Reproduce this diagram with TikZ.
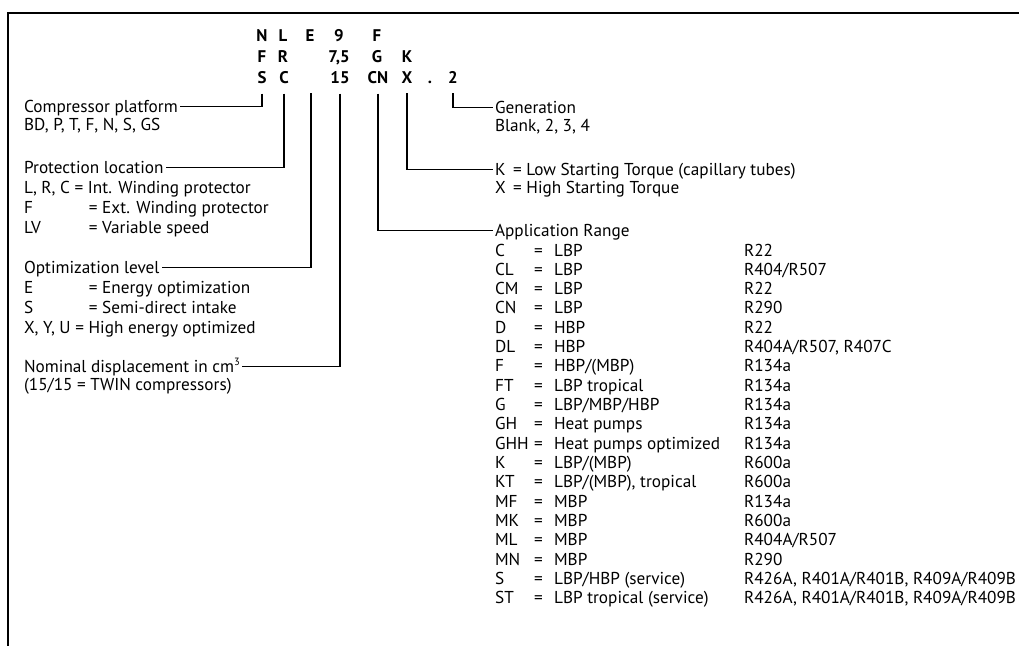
\documentclass[tikz,border=0pt]{standalone}
\usepackage{fontspec}
\setmainfont{PT Sans}

\tikzset{
  codeletter/.style={font=\fontsize{9.6}{11}\selectfont\bfseries, anchor=base, inner xsep=0pt, inner ysep=5.7pt},
  desc/.style={font=\fontsize{9.8}{11}\selectfont, anchor=base west, inner xsep=1pt, inner ysep=0pt, text height=1.2ex, text depth=0pt},
  rim/.style={line width=0.8pt},
  link/.style={line width=0.6pt},
}

\begin{document}
\begin{tikzpicture}[x=0.02cm, y=-0.02cm]
\useasboundingbox (0,0) rectangle (1019,646);
\draw[rim] (8,646) -- (8,13) -- (1019,13);

% type code
\node[codeletter] (n1) at (262,41) {N};
\node[codeletter] (l1) at (283,41) {L};
\node[codeletter] (e1) at (310,41) {E};
\node[codeletter] (d1) at (339,41) {9};
\node[codeletter] (a1) at (377,41) {F};
\node[codeletter] (f2) at (262,62) {F};
\node[codeletter] (r2) at (283,62) {R};
\node[codeletter] (d2) at (339,62) {7,5};
\node[codeletter] (a2) at (377,62) {G};
\node[codeletter] (k2) at (407,62) {K};
\node[codeletter] (s3) at (262,83) {S};
\node[codeletter] (c3) at (284,83) {C};
\node[codeletter] (d3) at (340,83) {15};
\node[codeletter] (a3) at (378,83) {CN};
\node[codeletter] (x3) at (407,83) {X};
\node[codeletter] (dot3) at (430,83) {.};
\node[codeletter] (g3) at (453,83) {2};
\coordinate (e3) at (311,93);

% left side
\node[desc] (platform) at (22,112) {Compressor platform};
\node[desc] (platformlist) at (22,130) {BD, P, T, F, N, S, GS};
\node[desc] (protection) at (22,173) {Protection location};
\node[desc] (protint) at (22,193) {L, R, C = Int. Winding protector};
\node[desc] (protext) at (22,213) {\makebox[36.9pt][l]{F}= Ext. Winding protector};
\node[desc] (protvar) at (22,233) {\makebox[36.9pt][l]{LV}= Variable speed};
\node[desc] (optimization) at (22,273) {Optimization level};
\node[desc] (optE) at (22,293) {\makebox[36.9pt][l]{E}= Energy optimization};
\node[desc] (optS) at (22,313) {\makebox[36.9pt][l]{S}= Semi-direct intake};
\node[desc] (optXYU) at (22,333) {X, Y, U = High energy optimized};
\node[desc] (displacement) at (22,372) {Nominal displacement in cm\raisebox{0.7ex}{\fontsize{6}{6}\selectfont 3}};
\node[desc] (twin) at (22,390) {(15/15 = TWIN compressors)};

% right side
\node[desc] (generation) at (493,113) {Generation};
\node[desc] (genlist) at (493,131) {Blank, 2, 3, 4};
\node[desc] (torque) at (493,175) {K \,= Low Starting Torque (capillary tubes)};
\node[desc] (torquehigh) at (493,193) {X \,= High Starting Torque};
\node[desc] (range) at (493,236) {Application Range};
\foreach \k/\what/\gas [count=\i from 0] in {
    C/LBP/R22, CL/LBP/{R404/R507}, CM/LBP/R22, CN/LBP/R290,
    D/HBP/R22, DL/HBP/{R404A/R507, R407C}, F/{HBP/(MBP)}/R134a,
    FT/LBP tropical/R134a, G/{LBP/MBP/HBP}/R134a, GH/Heat pumps/R134a,
    GHH/Heat pumps optimized/R134a, K/{LBP/(MBP)}/R600a,
    KT/{LBP/(MBP), tropical}/R600a, MF/MBP/R134a, MK/MBP/R600a,
    ML/MBP/{R404A/R507}, MN/MBP/R290,
    S/{LBP/HBP (service)}/{R426A, R401A/R401B, R409A/R409B},
    ST/{LBP tropical (service)}/{R426A, R401A/R401B, R409A/R409B}} {
  \node[desc] (rk\i) at (493,{256+19.33*\i}) {\k};
  \node[desc] (re\i) at (532,{256+19.33*\i}) {=};
  \node[desc] (rw\i) at (552,{256+19.33*\i}) {\what};
  \node[desc] (rg\i) at (742,{256+19.33*\i}) {\gas};
}

% connectors
\draw[link] (s3.south) |- (platform.east);
\draw[link] (c3.south) |- (protection.east);
\draw[link] (e3) |- (optimization.east);
\draw[link] (d3.south) |- (displacement.east);
\draw[link] (a3.south) |- (range.west);
\draw[link] (x3.south) |- (torque.west);
\draw[link] (g3.south) |- (generation.west);
\end{tikzpicture}
\end{document}
